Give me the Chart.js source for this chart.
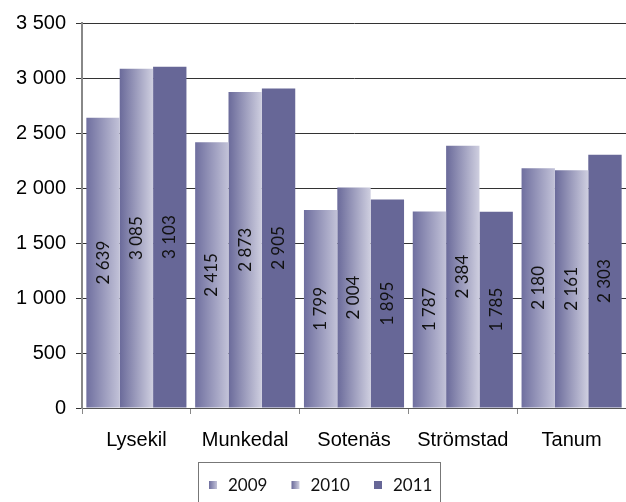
<!DOCTYPE html>
<html>
<head>
<meta charset="utf-8">
<script src="https://cdn.jsdelivr.net/npm/chart.js@4"></script>
<style>
  html, body { margin: 0; padding: 0; background: #fff; }
  #wrap { width: 626px; height: 502px; }
</style>
</head>
<body>
<div id="wrap"><canvas id="kommunChart" width="626" height="502"></canvas></div>
<script>
// Kommuner och värden per år
const kommuner = ['Lysekil', 'Munkedal', 'Sotenäs', 'Strömstad', 'Tanum'];
const years = ['2009', '2010', '2011'];
const values2009 = [2639, 2415, 1799, 1787, 2180];
const values2010 = [3085, 2873, 2004, 2384, 2161];
const values2011 = [3103, 2905, 1895, 1785, 2303];
const yTicks = [0, 500, 1000, 1500, 2000, 2500, 3000, 3500];

// färger: vänster -> höger kant i stapeln
const barColors = [
  ['#6f6f9f', '#c2c2d8'],
  ['#6a6a9a', '#cfcfe0'],
  ['#676797', '#676797']
];

const fmt = n => String(n).replace(/\B(?=(\d{3})+(?!\d))/g, ' ');

const catPct = 0.92;
const axisFont = '"Liberation Sans", Arial, sans-serif';
const labelFont = 'Lato, "Open Sans", sans-serif';

function barGradient(ctx) {
  const chart = ctx.chart;
  const ds = ctx.datasetIndex;
  const cols = barColors[ds];
  const x = chart.scales && chart.scales.x;
  if (!chart.chartArea || !x || ctx.dataIndex === undefined) return cols[0];
  const catW = x.width / kommuner.length;
  const barW = catW * catPct / years.length;
  const center = x.getPixelForValue(ctx.dataIndex) + (ds - 1) * barW;
  const g = chart.ctx.createLinearGradient(center - barW / 2, 0, center + barW / 2, 0);
  g.addColorStop(0, cols[0]);
  g.addColorStop(1, cols[1]);
  return g;
}

// rotated value labels inside the bars
const valueLabels = {
  id: 'valueLabels',
  afterDatasetsDraw(chart) {
    const c = chart.ctx;
    c.save();
    c.font = '17px ' + labelFont;
    c.fillStyle = '#111';
    c.textAlign = 'center';
    c.textBaseline = 'middle';
    chart.data.datasets.forEach((ds, i) => {
      chart.getDatasetMeta(i).data.forEach((bar, j) => {
        const midY = (bar.y + bar.base) / 2;
        c.save();
        c.translate(bar.x, midY);
        c.rotate(-Math.PI / 2);
        c.fillText(fmt(ds.data[j]), 0, 0);
        c.restore();
      });
    });
    c.restore();
  }
};

// legend in a box under the chart
const boxLegend = {
  id: 'boxLegend',
  afterDraw(chart) {
    const c = chart.ctx;
    c.save();
    c.strokeStyle = '#777';
    c.lineWidth = 1;
    c.strokeRect(198.5, 462.5, 242, 50);
    c.font = '17px ' + labelFont;
    c.textBaseline = 'middle';
    chart.data.datasets.forEach((ds, i) => {
      const x0 = 209 + i * 82.5;
      const cols = barColors[i];
      const g = c.createLinearGradient(x0, 0, x0 + 8, 0);
      g.addColorStop(0, cols[0]);
      g.addColorStop(1, cols[1]);
      c.fillStyle = g;
      c.fillRect(x0, 481, 8, 8);
      c.fillStyle = '#111';
      c.fillText(ds.label, x0 + 19, 486);
    });
    c.restore();
  }
};

const ctx = document.getElementById('kommunChart').getContext('2d');
const kommunChart = new Chart(ctx, {
  type: 'bar',
  data: {
    labels: kommuner,
    datasets: [
      { label: years[0], data: values2009, backgroundColor: barGradient },
      { label: years[1], data: values2010, backgroundColor: barGradient },
      { label: years[2], data: values2011, backgroundColor: barGradient }
    ]
  },
  options: {
    responsive: false,
    animation: false,
    devicePixelRatio: 1,
    layout: { padding: { top: 23, right: 0, bottom: 44, left: 0 } },
    datasets: {
      bar: {
        borderWidth: 0,
        categoryPercentage: catPct,
        barPercentage: 1
      }
    },
    plugins: {
      legend: { display: false },
      tooltip: { enabled: false },
      colors: { enabled: false }
    },
    scales: {
      x: {
        afterFit: s => { s.height = 50; },
        grid: { offset: true, drawOnChartArea: false, tickLength: 6, color: '#888' },
        border: { color: '#555', width: 1 },
        ticks: {
          padding: 14,
          color: '#000',
          font: { family: axisFont, size: 20 }
        }
      },
      y: {
        min: yTicks[0],
        max: yTicks[yTicks.length - 1],
        afterFit: s => { s.width = 82; },
        afterBuildTicks: s => { s.ticks = yTicks.map(v => ({ value: v })); },
        grid: { color: '#333', tickLength: 6 },
        border: { color: '#888', width: 2 },
        ticks: {
          padding: 10,
          color: '#000',
          font: { family: axisFont, size: 20 },
          callback: v => fmt(v)
        }
      }
    }
  },
  plugins: [valueLabels, boxLegend]
});
</script>
</body>
</html>
